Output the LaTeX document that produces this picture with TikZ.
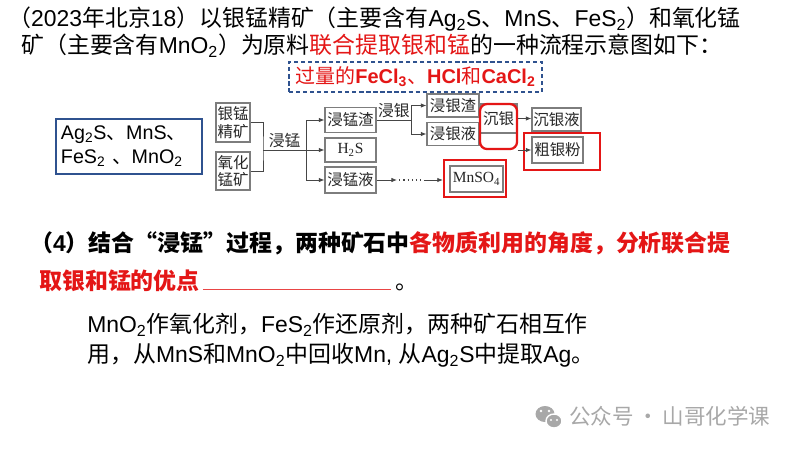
\documentclass[tikz,border=0pt]{standalone}
\usepackage{fontspec}
\setmainfont{Noto Sans CJK SC}
\newfontfamily\latsans{Liberation Sans}
\newfontfamily\latserif{Liberation Serif}
\usepackage{xcolor}
\usetikzlibrary{arrows.meta,positioning}

\definecolor{hlred}{RGB}{228,22,22}
\definecolor{hlblue}{RGB}{47,82,143}
\definecolor{boxgray}{RGB}{125,125,125}
\definecolor{linegray}{RGB}{70,70,70}
\definecolor{markgray}{RGB}{168,168,168}

\newcommand{\chem}[1]{{\latsans #1}}
\newcommand{\chemrm}[1]{{\latserif #1}}
\newcommand{\lo}[1]{\textsubscript{#1}}

\begin{document}
\begin{tikzpicture}[
    x=0.025cm, y=-0.025cm,
    txt/.style={anchor=base west, inner sep=0, font=\fontsize{16.3}{20}\selectfont},
    box/.style={rectangle, draw=boxgray, line width=0.8pt, inner sep=0, align=center, text=black!85, font=\fontsize{11}{12.5}\selectfont},
    hl/.style={rectangle, draw=hlred, line width=1.6pt},
    link/.style={draw=linegray, line width=0.6pt},
    arrow/.style={link, -{Latex[length=4pt,width=3.2pt]}},
    lbl/.style={inner sep=1pt, text=black!85, font=\fontsize{11.2}{13}\selectfont}
]
    \fill[white] (0,0) rectangle (800,450);
    \useasboundingbox (0,0) rectangle (800,450);

    % --- TITLE ---
    \node[txt] (t1) at (8,26.5) {（\chem{2023}年北京\chem{18}）以银锰精矿（主要含有\chem{Ag\lo{2}S}、\chem{MnS}、\chem{FeS\lo{2}}）和氧化锰};
    \node[txt] (t2) at (21,53.5) {矿（主要含有\chem{MnO\lo{2}}）为原料\textcolor{hlred}{联合提取银和锰}的一种流程示意图如下：};

    % --- REAGENTS ---
    \node[draw=hlblue, line width=1.1pt, dash pattern=on 3pt off 2pt, minimum width=6.325cm, minimum height=0.75cm, inner sep=0, text=hlred, font=\fontsize{14.2}{17}\selectfont] (reag) at (415.5,77) {过量的\textbf{\chem{FeCl\lo{3}}}、\textbf{\chem{HCl}}和\textbf{\chem{CaCl\lo{2}}}};

    % --- ORES ---
    \node[draw=hlblue, line width=1.1pt, minimum width=3.65cm, minimum height=1.375cm, text width=3.4cm, align=left, inner sep=0, font=\fontsize{14}{17}\selectfont] (ores) at (129,146.5) {\chem{Ag\lo{2}S}、\chem{MnS}、\\\chem{FeS\lo{2} }、\chem{MnO\lo{2}}};

    % --- FLOW BOXES ---
    \node[box, minimum width=0.85cm, minimum height=0.975cm] (ore1) at (233,122.5) {银锰\\精矿};
    \node[box, minimum width=0.85cm, minimum height=0.95cm] (ore2) at (233,171) {氧化\\锰矿};
    \node[box, minimum width=1.275cm, minimum height=0.625cm] (jmz) at (350.5,120) {浸锰渣};
    \node[box, minimum width=1.275cm, minimum height=0.6cm] (h2s) at (350.5,150) {\chemrm{H\lo{2}S}};
    \node[box, minimum width=1.275cm, minimum height=0.65cm] (jmy) at (350.5,180) {浸锰液};
    \node[box, minimum width=1.3cm, minimum height=0.575cm] (jyz) at (453,105.5) {浸银渣};
    \node[box, minimum width=1.3cm, minimum height=0.575cm] (jyy) at (453,134) {浸银液};
    \node[box, minimum width=0.925cm, minimum height=0.725cm] (cy) at (498.5,118.5) {沉银};
    \node[hl, rounded corners=5pt, minimum width=0.925cm, minimum height=1.125cm] (cyhl) at (498.5,126.5) {};
    \node[box, minimum width=1.225cm, minimum height=0.575cm] (cyy) at (556.5,119.5) {沉银液};
    \node[box, minimum width=1.275cm, minimum height=0.65cm] (cuf) at (557.5,150) {粗银粉};
    \node[hl, minimum width=1.9cm, minimum height=0.925cm] (cufhl) at (562,151.5) {};
    \node[box, minimum width=1.325cm, minimum height=0.65cm] (mnso) at (476.5,179) {\chemrm{MnSO\lo{4}}};
    \node[hl, minimum width=1.55cm, minimum height=0.925cm] (mnsohl) at (475,178.5) {};

    % --- LINKS ---
    \coordinate (jn) at (263,150);
    \coordinate (br) at (306,150);
    \draw[link] (ore1.east) -| (jn) |- (ore2.east);
    \draw[link] (jn) -- (br) node[lbl, midway, above] {浸锰};
    \draw[arrow] (br) |- (jmz.west);
    \draw[arrow] (br) -- (h2s.west);
    \draw[arrow] (br) |- (jmy.west);

    \coordinate (yb) at (411,120);
    \draw[link] (jmz.east) -- (yb) node[lbl, midway, above] {浸银};
    \draw[arrow] (yb) |- (jyz.west);
    \draw[arrow] (yb) |- (jyy.west);

    \draw[arrow] (cy.east) -- (cy.east -| cyy.west);
    \draw[arrow] (cy.east |- cuf.west) -- (cuf.west);

    \coordinate (d1) at (397,180);
    \coordinate (d2) at (421,180);
    \draw[arrow] (jmy.east) -- (d1);
    \draw[link, line width=0.9pt, dash pattern=on 0.9pt off 2.1pt] ([xshift=1.5pt]d1) -- (d2);
    \draw[arrow] ([xshift=2pt]d2) -- (d2 -| mnsohl.west);

    % --- QUESTION ---
    \node[txt, font=\fontsize{16.3}{20}\selectfont\bfseries] (q1) at (30,251.5) {（\chem{4}）结合“浸锰”过程，两种矿石中\textcolor{hlred}{各物质利用的角度，分析联合提}};
    \node[txt, font=\fontsize{16.3}{20}\selectfont\bfseries, text=hlred] (q2) at (39,289.5) {取银和锰的优点};
    \draw[hlred!80, line width=1.2pt] ([xshift=2pt]q2.base east) -- ++(188,0) coordinate (ul);
    \node[txt] (q3) at ([xshift=3pt]ul) {。};

    % --- ANSWER ---
    \node[txt] (a1) at (87,332.5) {\chem{MnO\lo{2}}作氧化剂，\chem{FeS\lo{2}}作还原剂，两种矿石相互作};
    \node[txt] (a2) at (87,362.5) {用，从\chem{MnS}和\chem{MnO\lo{2}}中回收\chem{Mn, }从\chem{Ag\lo{2}S}中提取\chem{Ag}。};

    % --- WATERMARK ---
    \fill[markgray] (545,414) ellipse [x radius=9.5, y radius=8];
    \draw[white, line width=1pt, fill=markgray] (554,421) ellipse [x radius=8, y radius=7];
    \fill[white] (541,411) circle [radius=1.3] (549,411) circle [radius=1.3]
        (551,420) circle [radius=1.1] (557,420) circle [radius=1.1];
    \node[txt, text=markgray, font=\fontsize{15.3}{18}\selectfont] (wm) at (569,424) {公众号\,·\,山哥化学课};
\end{tikzpicture}
\end{document}
